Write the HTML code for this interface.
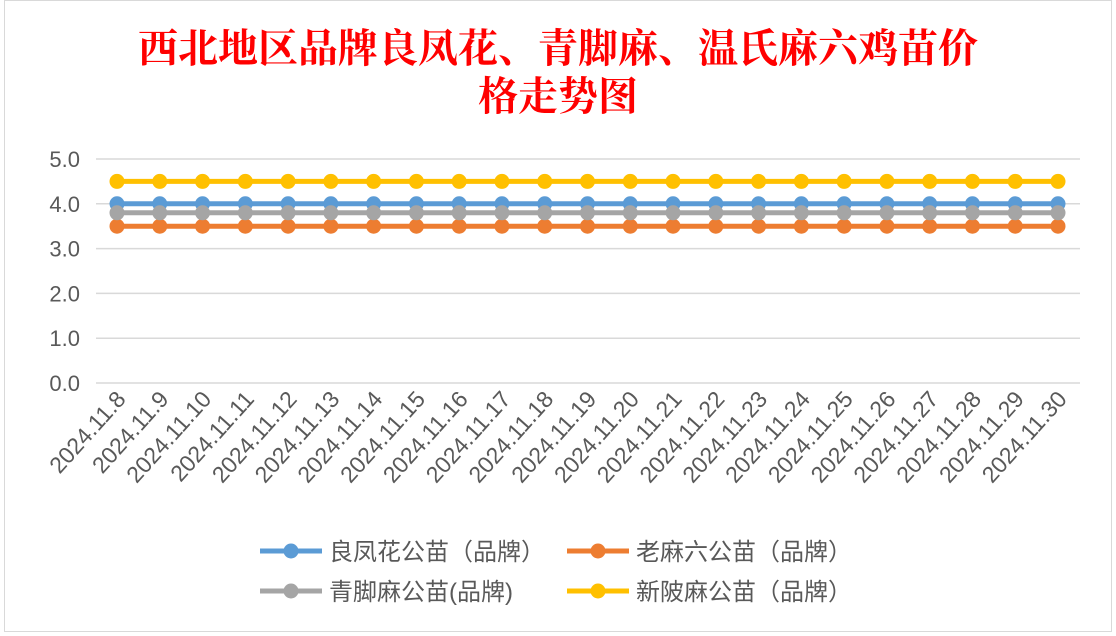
<!DOCTYPE html>
<html><head><meta charset="utf-8"><style>
html,body{margin:0;padding:0;background:#fff;}
svg{display:block;font-family:"Liberation Sans","Noto Sans CJK SC",sans-serif;}
</style></head><body>
<svg id="chart" width="1116" height="636" viewBox="0 0 1116 636">
<rect x="0" y="0" width="1116" height="636" fill="#fff"/>
<rect x="4.5" y="0.5" width="1107" height="631" fill="#fff" stroke="#d9d9d9"/>
<text x="558" y="62" text-anchor="middle" font-size="40" fill="#ff0000" font-family="'Noto Serif CJK SC',serif" font-weight="bold">西北地区品牌良凤花、青脚麻、温氏麻六鸡苗价</text>
<text x="558" y="110" text-anchor="middle" font-size="40" fill="#ff0000" font-family="'Noto Serif CJK SC',serif" font-weight="bold">格走势图</text>
<g id="grid"></g><g id="ylabels"></g><g id="xlabels"></g><g id="series"></g>
<g id="legend"></g>
</svg>
<script>
const categories=["2024.11.8","2024.11.9","2024.11.10","2024.11.11","2024.11.12","2024.11.13","2024.11.14","2024.11.15","2024.11.16","2024.11.17","2024.11.18","2024.11.19","2024.11.20","2024.11.21","2024.11.22","2024.11.23","2024.11.24","2024.11.25","2024.11.26","2024.11.27","2024.11.28","2024.11.29","2024.11.30"];
const seriesNames=["良凤花公苗（品牌）","老麻六公苗（品牌）","青脚麻公苗(品牌)","新陂麻公苗（品牌）"];
const liangfenghua=[4.0,4.0,4.0,4.0,4.0,4.0,4.0,4.0,4.0,4.0,4.0,4.0,4.0,4.0,4.0,4.0,4.0,4.0,4.0,4.0,4.0,4.0,4.0];
const laomaliu=[3.5,3.5,3.5,3.5,3.5,3.5,3.5,3.5,3.5,3.5,3.5,3.5,3.5,3.5,3.5,3.5,3.5,3.5,3.5,3.5,3.5,3.5,3.5];
const qingjiaoma=[3.8,3.8,3.8,3.8,3.8,3.8,3.8,3.8,3.8,3.8,3.8,3.8,3.8,3.8,3.8,3.8,3.8,3.8,3.8,3.8,3.8,3.8,3.8];
const xinpoma=[4.5,4.5,4.5,4.5,4.5,4.5,4.5,4.5,4.5,4.5,4.5,4.5,4.5,4.5,4.5,4.5,4.5,4.5,4.5,4.5,4.5,4.5,4.5];
const yTicks=[0,1,2,3,4,5];
const yTickLabels=["0.0","1.0","2.0","3.0","4.0","5.0"];

const NS="http://www.w3.org/2000/svg";
const colors=["#5b9bd5","#ed7d31","#a5a5a5","#ffc000"];
const X0=117,X1=1058,Y0=383,Y5=159,YMAX=5;
const xScale=i=>X0+(X1-X0)*i/(categories.length-1);
const yScale=v=>Y0-(Y0-Y5)*v/YMAX;
function mk(tag,attrs,parent){const e=document.createElementNS(NS,tag);for(const k in attrs)e.setAttribute(k,attrs[k]);parent.appendChild(e);return e;}
const grid=document.getElementById('grid'),yl=document.getElementById('ylabels'),xl=document.getElementById('xlabels'),sg=document.getElementById('series'),lg=document.getElementById('legend');
yTicks.forEach((t,i)=>{
 const l=mk('line',{x1:96,x2:1080,y1:yScale(t),y2:yScale(t),stroke:'#d9d9d9','stroke-width':1.5},grid);
 
 
 const tx=mk('text',{x:80,y:yScale(t)+8,'text-anchor':'end','font-size':22,fill:'#595959'},yl);
 tx.textContent=yTickLabels[i];
 
 
});
categories.forEach((c,i)=>{
 const x=xScale(i)+10,y=400;
 const tx=mk('text',{x:x,y:y,'text-anchor':'end','font-size':23,fill:'#595959',transform:`rotate(-48 ${x} ${y})`},xl);
 tx.textContent=c;
 
 
});
[liangfenghua,laomaliu,qingjiaoma,xinpoma].forEach((arr,s)=>{
 const g=mk('g',{},sg);
 
 
 const pl=mk('polyline',{points:arr.map((v,i)=>xScale(i)+','+yScale(v)).join(' '),fill:'none',stroke:colors[s],'stroke-width':5},g);
 
 
 arr.forEach((v,i)=>{
  const p=mk('circle',{cx:xScale(i),cy:yScale(v),r:7.5,fill:colors[s]},g);
  
  
 });
});
const legPos=[[260,551],[567,551],[260,591],[567,591]];
seriesNames.forEach((n,s)=>{
 const [x,y]=legPos[s];
 const g=mk('g',{},lg);
 
 
 mk('line',{x1:x,x2:x+62,y1:y,y2:y,stroke:colors[s],'stroke-width':5},g);
 mk('circle',{cx:x+31,cy:y,r:7.5,fill:colors[s]},g);
 const t=mk('text',{x:x+69,y:y+9,'font-size':24,fill:'#595959'},g);
 t.textContent=n;
});
</script>
</body></html>
